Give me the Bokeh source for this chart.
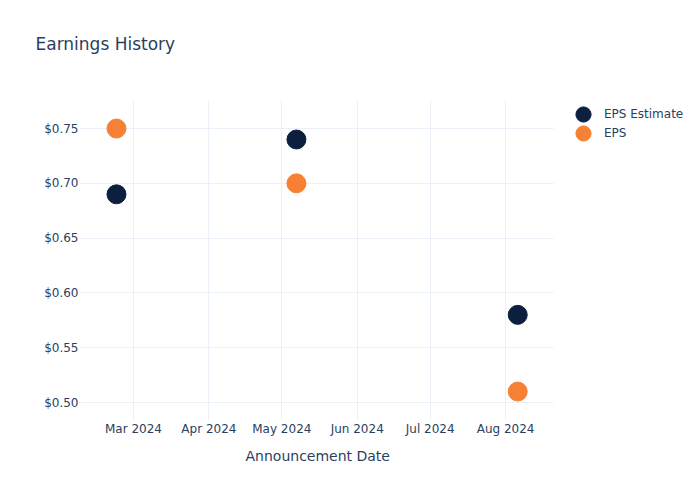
from datetime import datetime
from bokeh.plotting import figure
from bokeh.models import (ColumnDataSource, Range1d, DatetimeTickFormatter, MonthsTicker,
                          NumeralTickFormatter, FixedTicker, Legend, LegendItem, Title, Grid)
from bokeh.embed import file_html
from bokeh.resources import INLINE

dates = ["2024-02-23", "2024-05-07", "2024-08-06"]
eps_estimate = [0.69, 0.74, 0.58]
eps_actual = [0.75, 0.70, 0.51]
y_ticks = [0.50, 0.55, 0.60, 0.65, 0.70, 0.75]
series_names = ["EPS Estimate", "EPS"]
x_label = "Announcement Date"
chart_title = "Earnings History"

FONT = "DejaVu Sans"
TXT = "#2a3f5f"
GRID = "#ebf0f8"
EPOCH = datetime(1970, 1, 1)


def ms(d):
    return (d - EPOCH).total_seconds() * 1000.0


src = ColumnDataSource(dict(
    date=[datetime.strptime(d, "%Y-%m-%d") for d in dates],
    est=eps_estimate,
    eps=eps_actual,
))

# visible plotting area spans 80..553 px; the frame is widened to the window edge
# so that the legend (drawn inside the frame) is not clipped.
x0 = ms(datetime(2024, 2, 8, 5))
x1 = ms(datetime(2024, 8, 20, 17))
x_end_frame = x0 + (x1 - x0) * (700 - 80) / (553 - 80)
y0, y1 = 0.4836, 0.7756

p = figure(width=700, height=500, output_backend="svg", toolbar_location=None,
           x_axis_type="datetime",
           x_range=Range1d(x0, x_end_frame),
           y_range=Range1d(y0, y1),
           min_border_left=80, min_border_right=0, min_border_top=100, min_border_bottom=80)

p.title = Title(text=chart_title + "\n ", text_font=FONT, text_font_size="17px",
                text_font_style="normal", text_color=TXT, offset=-45, standoff=50,
                vertical_align="top")

p.outline_line_color = None
p.background_fill_color = "white"
p.border_fill_color = "white"

# grid
p.xgrid.grid_line_color = GRID
p.ygrid.grid_line_color = None
p.xgrid.ticker = MonthsTicker(months=[2, 3, 4, 5, 6, 7])
if "cross_bounds" in Grid.properties():
    p.ygrid.grid_line_color = GRID
    p.ygrid.ticker = FixedTicker(ticks=y_ticks)
    p.ygrid.cross_bounds = (x0, x1)
else:
    p.segment(x0=[x0] * len(y_ticks), x1=[x1] * len(y_ticks), y0=y_ticks, y1=y_ticks,
              line_color=GRID, line_width=1, level="underlay")

r1 = p.scatter("date", "est", source=src, size=19, color="#0c1f3f", line_color="#0c1f3f")
r2 = p.scatter("date", "eps", source=src, size=19, color="#f68135", line_color="#f68135")

# axes
p.xaxis.ticker = MonthsTicker(months=[2, 3, 4, 5, 6, 7])
p.xaxis.formatter = DatetimeTickFormatter(months="%b %Y", days="%b %Y")
p.yaxis.ticker = FixedTicker(ticks=y_ticks)
p.yaxis.formatter = NumeralTickFormatter(format="$0.00")
for ax in (p.xaxis[0], p.yaxis[0]):
    ax.axis_line_color = None
    ax.major_tick_line_color = None
    ax.minor_tick_line_color = None
    ax.major_tick_out = 0
    ax.major_tick_in = 0
    ax.minor_tick_out = 0
    ax.minor_tick_in = 0
    ax.major_label_text_font = FONT
    ax.major_label_text_font_size = "12px"
    ax.major_label_text_color = TXT
p.xaxis.major_label_standoff = 1
p.yaxis.major_label_standoff = 2

p.add_layout(Title(text=x_label, text_font=FONT, text_font_size="14px",
                   text_font_style="normal", text_color=TXT, align="left",
                   offset=165, standoff=14), "below")

for i, (name, r) in enumerate(zip(series_names, [r1, r2])):
    lg = Legend(items=[LegendItem(label=name, renderers=[r])],
                location=(484, 287 - 19 * i), glyph_height=38, glyph_width=38, spacing=0,
                label_standoff=2, padding=0, margin=0,
                label_text_font=FONT, label_text_font_size="12px", label_text_color=TXT,
                background_fill_alpha=0, border_line_color=None)
    p.add_layout(lg, "center")

open("out.html", "w").write(file_html(p, INLINE))
